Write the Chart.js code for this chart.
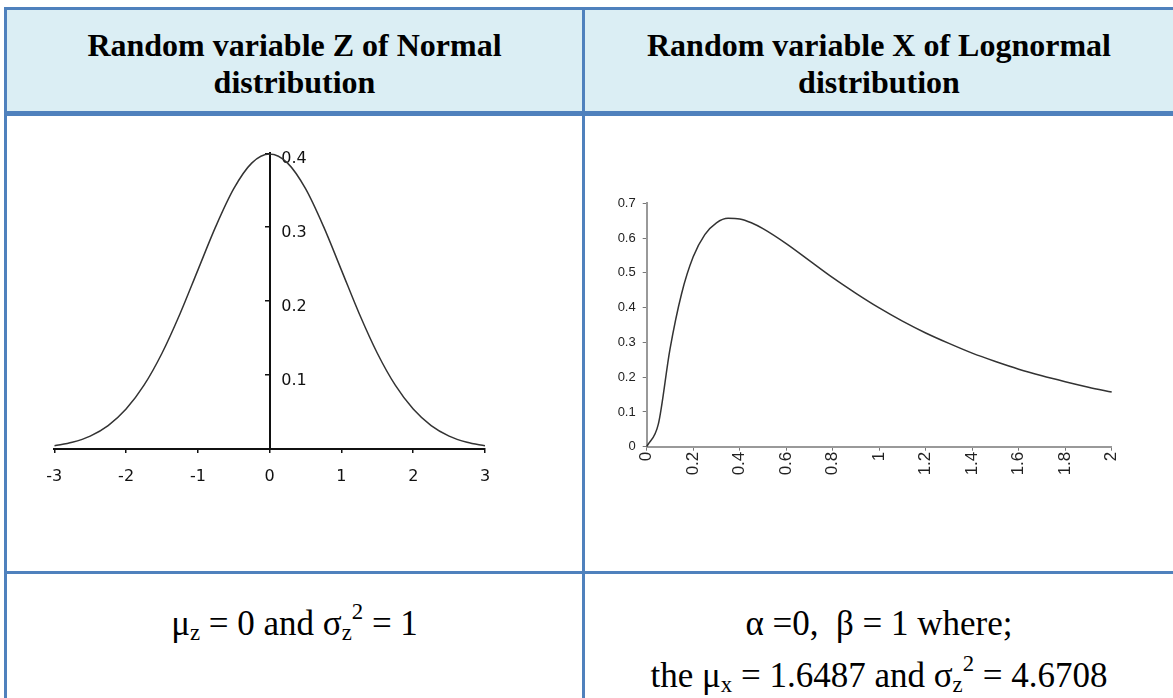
<!DOCTYPE html>
<html>
<head>
<meta charset="utf-8">
<script src="https://cdn.jsdelivr.net/npm/chart.js@4/dist/chart.umd.min.js"></script>
<style>
  html,body{margin:0;padding:0;background:#fff;}
  body{width:1173px;height:698px;position:relative;overflow:hidden;}
  .b{position:absolute;background:#4F81BD;}
  .hdrbg{position:absolute;background:#DBEEF4;}
  .hdr{position:absolute;font:bold 32px/37px 'Liberation Serif','Times New Roman',serif;color:#000;text-align:center;white-space:nowrap;}
  .txt{position:absolute;font:35px/52px 'Liberation Serif','Times New Roman',serif;color:#000;text-align:center;white-space:nowrap;}
  .sub{font-size:0.65em;position:relative;top:0.2em;}
  .sup{font-size:0.65em;position:relative;top:-0.7em;}
  canvas{position:absolute;}
</style>
</head>
<body>
<div class="hdrbg" style="left:7px;top:10px;width:1166px;height:101px"></div>
<div class="b" style="left:4px;top:7px;width:1169px;height:3px"></div>
<div class="b" style="left:4px;top:7px;width:3px;height:691px"></div>
<div class="b" style="left:582px;top:7px;width:3px;height:691px"></div>
<div class="b" style="left:4px;top:111px;width:1169px;height:5px"></div>
<div class="b" style="left:4px;top:571px;width:1169px;height:3px"></div>

<div class="hdr" style="left:7px;width:575px;top:27px">Random variable Z of Normal<br>distribution</div>
<div class="hdr" style="left:585px;width:588px;top:27px">Random variable X of Lognormal<br>distribution</div>

<div class="txt" style="left:7px;width:575px;top:598px">μ<span class="sub">z</span> = 0 and σ<span class="sub">z</span><span class="sup">2</span> = 1</div>
<div class="txt" style="left:585px;width:588px;top:598px">α =0,&nbsp; β = 1 where;<br>the μ<span class="sub">x</span> = 1.6487 and σ<span class="sub">z</span><span class="sup">2</span> = 4.6708</div>

<canvas id="c1" width="575" height="450" style="left:7px;top:120px"></canvas>
<canvas id="c2" width="588" height="450" style="left:585px;top:120px"></canvas>

<script>
// ---- Normal distribution (left) ----
const normX = [-3,-2.75,-2.5,-2.25,-2,-1.75,-1.5,-1.25,-1,-0.75,-0.5,-0.25,0,0.25,0.5,0.75,1,1.25,1.5,1.75,2,2.25,2.5,2.75,3];
const normY = [0.0044,0.0091,0.0175,0.0317,0.054,0.0863,0.1295,0.1826,0.242,0.3011,0.3521,0.3867,0.3989,0.3867,0.3521,0.3011,0.242,0.1826,0.1295,0.0863,0.054,0.0317,0.0175,0.0091,0.0044];
const normXTicks = ['-3','-2','-1','0','1','2','3'];
const normYTicks = ['','0.1','0.2','0.3','0.4'];

// ---- Lognormal distribution (right) ----
const logX = [0,0.05,0.1,0.15,0.2,0.25,0.3,0.35,0.4,0.45,0.5,0.6,0.7,0.8,0.9,1,1.1,1.2,1.3,1.4,1.5,1.6,1.7,1.8,1.9,2];
const logY = [0,0.065,0.28,0.44,0.546,0.61,0.644,0.657,0.655,0.644,0.627,0.584,0.535,0.486,0.441,0.399,0.361,0.327,0.297,0.269,0.245,0.223,0.204,0.187,0.171,0.157];
const logXTicks = ['0','0.2','0.4','0.6','0.8','1','1.2','1.4','1.6','1.8','2'];
const logYTicks = ['0','0.1','0.2','0.3','0.4','0.5','0.6','0.7'];

function pts(xs, ys){ return xs.map((x,i)=>({x:x, y:ys[i]})); }

new Chart(document.getElementById('c1'), {
  type: 'line',
  data: { datasets: [{ data: pts(normX, normY), borderColor:'#333', borderWidth:1.5, pointRadius:0, cubicInterpolationMode:'monotone', fill:false }] },
  options: {
    responsive:false, animation:false, devicePixelRatio:1,
    layout:{ autoPadding:false, padding:{ left:47.3, right:97, top:33.3, bottom:81 } },
    plugins:{ legend:{display:false}, tooltip:{enabled:false} },
    scales:{
      x:{ type:'linear', min:-3, max:3, position:'bottom',
          afterFit:(s)=>{ s.height = 40; },
          ticks:{ stepSize:1, autoSkip:false, maxRotation:0, padding:14, color:'#111',
                  font:{ family:'DejaVu Sans', size:16 }, callback:(v,i)=>normXTicks[i] },
          grid:{ drawOnChartArea:false, drawTicks:true, tickLength:4, color:'#111', lineWidth:1.5 },
          border:{ display:true, color:'#111', width:2 } },
      y:{ type:'linear', min:0, max:0.4, position:'center',
          ticks:{ stepSize:0.1, padding:-41, labelOffset:6, color:'#111',
                  font:{ family:'DejaVu Sans', size:16 }, callback:(v,i)=>normYTicks[i] },
          grid:{ drawOnChartArea:false, drawTicks:true, tickLength:4, color:'#111', lineWidth:1.5 },
          border:{ display:true, color:'#111', width:2 } }
    }
  }
});

new Chart(document.getElementById('c2'), {
  type: 'line',
  data: { datasets: [{ data: pts(logX, logY), borderColor:'#333', borderWidth:1.5, pointRadius:0, cubicInterpolationMode:'monotone', fill:false, clip:4 }] },
  options: {
    responsive:false, animation:false, devicePixelRatio:1,
    layout:{ autoPadding:false, padding:{ left:21.7, right:61.3, top:83.3, bottom:83.3 } },
    plugins:{ legend:{display:false}, tooltip:{enabled:false} },
    scales:{
      x:{ type:'linear', min:0, max:2, position:'bottom',
          afterFit:(s)=>{ s.height = 40; },
          ticks:{ stepSize:0.2, autoSkip:false, minRotation:90, maxRotation:90, padding:1, color:'#222',
                  font:{ family:'Liberation Sans', size:17 }, callback:(v,i)=>logXTicks[i] },
          grid:{ drawOnChartArea:false, drawTicks:true, tickLength:4, color:'#777', lineWidth:1 },
          border:{ display:true, color:'#999', width:2 } },
      y:{ type:'linear', min:0, max:0.7, position:'left',
          afterFit:(s)=>{ s.width = 40; },
          ticks:{ stepSize:0.1, padding:7, color:'#222',
                  font:{ family:'Liberation Sans', size:13 }, callback:(v,i)=>logYTicks[i] },
          grid:{ drawOnChartArea:false, drawTicks:true, tickLength:4, color:'#777', lineWidth:1 },
          border:{ display:true, color:'#999', width:2 } }
    }
  }
});
</script>
</body>
</html>
